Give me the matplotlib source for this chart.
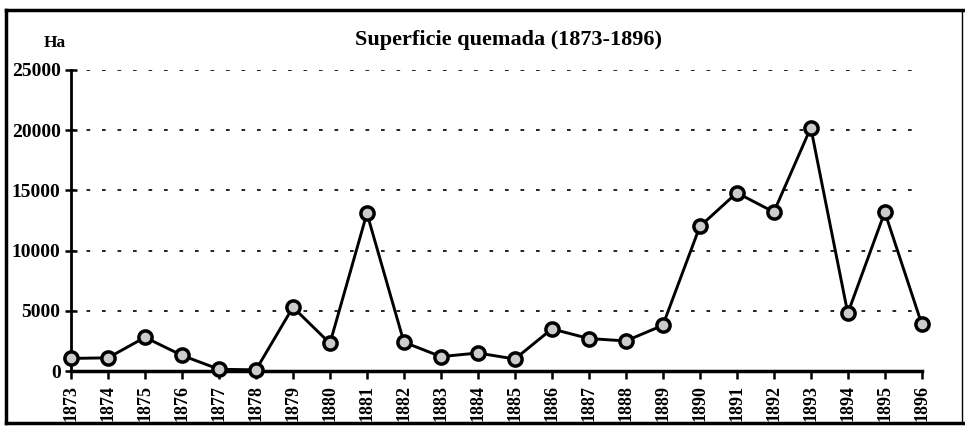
import matplotlib
matplotlib.use("Agg")
import matplotlib.pyplot as plt
from matplotlib.lines import Line2D

# Superficie quemada por año (ha)
years = list(range(1873, 1897))
hectares = [1050, 1100, 2800, 1300, 150, 100, 5300, 2300, 13100, 2400,
            1200, 1500, 1000, 3500, 2700, 2500, 3800, 12000, 14800, 13200,
            20200, 4800, 13200, 3900]
yticks = [0, 5000, 10000, 15000, 20000, 25000]

plt.rcParams['font.family'] = ['Liberation Serif', 'DejaVu Serif']
plt.rcParams['font.weight'] = 'bold'

fig = plt.figure(figsize=(9.65, 4.34), dpi=100)
ax = fig.add_axes([0.0736, 0.145, 0.8816, 0.694])

ax.plot(years, hectares, color='black', lw=2.1, marker='o', ms=9.5,
        mfc='#cccccc', mec='black', mew=2.5, clip_on=False, zorder=3)

ax.set_xlim(1873, 1896)
ax.set_ylim(0, 25000)
ax.set_xticks(years)
ax.set_xticklabels([str(y) for y in years], rotation=90, fontsize=13, fontweight='bold')
ax.set_yticks(yticks)
ax.set_yticklabels([str(v) for v in yticks], fontsize=14, fontweight='bold')

for yv in yticks[1:]:
    ax.axhline(yv, xmax=0.99, color='black', lw=1.2, ls=(0, (2.2, 7.1)), zorder=1)

for s in ['top', 'right']:
    ax.spines[s].set_visible(False)
ax.spines['left'].set_linewidth(2)
ax.spines['bottom'].set_linewidth(2.5)
ax.tick_params(axis='y', direction='inout', length=9, width=1.8, pad=3)
ax.tick_params(axis='x', direction='out', length=6, width=1.8, pad=4)

fig.text(0.057, 0.9, 'Ha', ha='center', va='center', fontsize=12.5, fontweight='bold')
fig.text(0.527, 0.908, 'Superficie quemada (1873-1896)', ha='center', va='center',
         fontsize=16, fontweight='bold')

# marco exterior
fig.add_artist(Line2D([0.006, 0.006], [0.025, 0.978], color='black', lw=2.5))
fig.add_artist(Line2D([0.006, 0.998], [0.978, 0.978], color='black', lw=2.5))
fig.add_artist(Line2D([0.006, 0.998], [0.025, 0.025], color='black', lw=2.5))
fig.add_artist(Line2D([0.997, 0.997], [0.025, 0.978], color='black', lw=1.0))

fig.savefig('out.png', dpi=100)
